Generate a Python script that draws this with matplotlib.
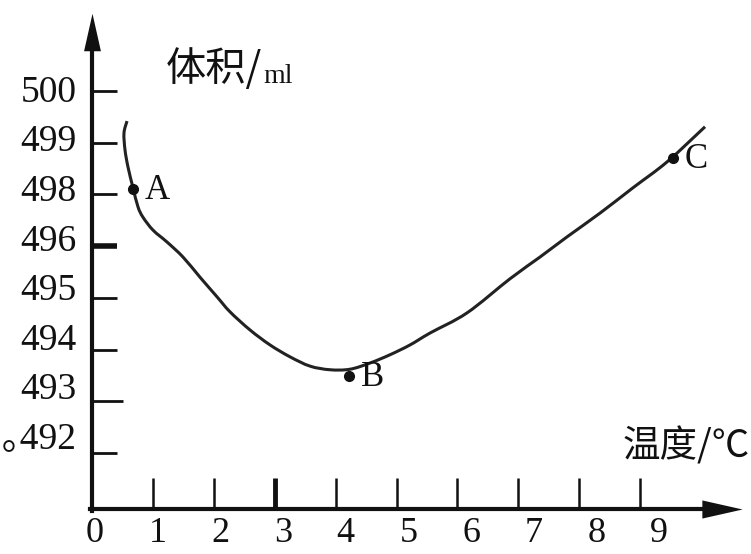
import numpy as np
import matplotlib.pyplot as plt
from matplotlib.path import Path
from matplotlib.patches import PathPatch

# 温度 (℃) 与体积刻度位置（0 对应 492 那一格，往上每格一个刻度）
temp = [0.575, 0.525, 0.542, 0.591, 0.673, 0.755, 0.837, 1.002, 1.232, 1.494,
        1.773, 2.053, 2.266, 2.594, 2.923, 3.251, 3.580, 3.908, 4.236, 4.565,
        4.893, 5.222, 5.550, 6.158, 6.864, 7.356, 7.800, 8.342, 8.883, 9.442,
        10.066]
vol_pos = [6.42, 6.19, 5.86, 5.53, 5.13, 4.76, 4.56, 4.31, 4.08, 3.79,
           3.40, 3.02, 2.73, 2.38, 2.09, 1.86, 1.68, 1.61, 1.62, 1.74,
           1.90, 2.09, 2.32, 2.71, 3.37, 3.79, 4.18, 4.64, 5.13, 5.63,
           6.31]

pt_names = ['A', 'B', 'C']
pt_temp = [0.673, 4.220, 9.540]
pt_vol = [5.11, 1.49, 5.71]

x_ticks = list(range(10))
x_labels = [str(i) for i in x_ticks]
y_ticks = list(range(8))
y_labels = ['｡492', '493', '494', '495', '496', '498', '499', '500']

serif = ['Liberation Serif', 'Noto Sans CJK SC']
cjk = ['Noto Sans CJK SC', 'DejaVu Sans']
ink = '#111111'


def smooth_path(xs, ys):
    # Catmull-Rom 曲线转成三次贝塞尔，线经过每个点
    p = np.column_stack([xs, ys])
    p = np.vstack([p[0], p, p[-1]])
    verts = [p[1]]
    codes = [Path.MOVETO]
    for i in range(1, len(p) - 2):
        c1 = p[i] + (p[i + 1] - p[i - 1]) / 6
        c2 = p[i + 1] - (p[i + 2] - p[i]) / 6
        verts += [c1, c2, p[i + 1]]
        codes += [Path.CURVE4] * 3
    return Path(verts, codes)


fig = plt.figure(figsize=(7.51, 5.54), dpi=100)
ax = fig.add_axes([0, 0, 1, 1])
ax.set_xlim(-1.511, 10.821)
ax.set_ylim(-1.954, 8.762)
ax.patch.set_visible(False)

x_axis_y = -1.083
ax.spines['top'].set_visible(False)
ax.spines['right'].set_visible(False)
ax.spines['left'].set_position(('data', 0))
ax.spines['bottom'].set_position(('data', x_axis_y))
ax.spines['left'].set_bounds(x_axis_y - 0.03, 7.75)
ax.spines['bottom'].set_bounds(-0.03, 10.03)
for s in ('left', 'bottom'):
    ax.spines[s].set_linewidth(3)
    ax.spines[s].set_color(ink)

# 坐标轴箭头
up = [(-0.45, -1), (0, 1), (0.45, -1), (-0.45, -1)]
right = [(-1, -0.45), (1, 0), (-1, 0.45), (-1, -0.45)]
ax.plot([0], [8.143], marker=up, ms=27, color=ink, mew=0, clip_on=False)
ax.plot([10.345], [x_axis_y], marker=right, ms=29, color=ink, mew=0, clip_on=False)

ax.set_xticks(x_ticks)
ax.set_yticks(y_ticks)
ax.tick_params(axis='y', direction='in', length=18, width=2, color=ink, labelleft=False)
ax.tick_params(axis='x', direction='in', length=22, width=1.8, color=ink, labelbottom=False)
xt = ax.xaxis.get_major_ticks()
xt[0].tick1line.set_visible(False)
xt[3].tick1line.set_markeredgewidth(3.5)
yt = ax.yaxis.get_major_ticks()
yt[4].tick1line.set_markeredgewidth(4)
yt[1].tick1line.set_markersize(22)

# 刻度数字单独放在副坐标轴上
x0, x1 = ax.get_xlim()
y0, y1 = ax.get_ylim()
secx = ax.secondary_xaxis((x_axis_y - y0) / (y1 - y0),
                          functions=(lambda p: (p - 0.045) / 1.03,
                                     lambda s: 0.045 + 1.03 * s))
secy = ax.secondary_yaxis((0 - x0) / (x1 - x0),
                          functions=(lambda p: (p - 0.336) / 0.959,
                                     lambda s: 0.336 + 0.959 * s))
secx.set_xticks(x_ticks, x_labels, fontfamily=serif, fontsize=26, color=ink)
secy.set_yticks(y_ticks, y_labels, fontfamily=serif, fontsize=27, color=ink)
secx.tick_params(length=0, pad=6)
secy.tick_params(length=0, pad=11)
for sec in (secx, secy):
    for sp in sec.spines.values():
        sp.set_visible(False)

ax.add_patch(PathPatch(smooth_path(temp, vol_pos), fill=False,
                       edgecolor='#222222', lw=2.2))
ax.plot(pt_temp, pt_vol, 'o', color=ink, ms=7)
for name, tx, vy in zip(pt_names, pt_temp, pt_vol):
    ax.annotate(name, (tx, vy), xytext=(8.6, -1.4), textcoords='offset points',
                ha='left', va='center', fontfamily=serif, fontsize=25, color=ink)

# 轴名称
t1 = ax.text(166 / 751, 1 - 81 / 554, '体积/', transform=ax.transAxes,
             ha='left', va='baseline', fontfamily=cjk, fontsize=29, color=ink)
ax.annotate('ml', xy=(1, 1 - 83 / 554), xycoords=(t1, 'axes fraction'),
            xytext=(1, 0), textcoords='offset points', ha='left', va='baseline',
            fontfamily=serif, fontsize=20, color=ink)
ax.text(623 / 751, 1 - 457 / 554, '温度/℃', transform=ax.transAxes,
        ha='left', va='baseline', fontfamily=cjk, fontsize=27, color=ink)

fig.savefig('out.png', dpi=100)
